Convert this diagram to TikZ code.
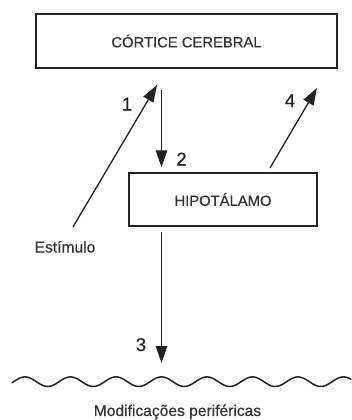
\documentclass[tikz,border=0pt]{standalone}
\usepackage{fontspec}
\setmainfont{Liberation Sans}
\newfontfamily\medfont{Liberation Sans}[FakeBold=0.5]
\usetikzlibrary{arrows.meta}
\definecolor{ink}{HTML}{222226}
\definecolor{txt}{HTML}{333337}
\begin{document}
\begin{tikzpicture}[x=1pt,y=-1pt,
  box/.style={draw=ink, line width=1.4pt, inner sep=0pt, text=txt,
    font=\medfont\fontsize{14.8}{16}\selectfont},
  lbl/.style={text=txt, inner sep=0pt, font=\medfont\fontsize{15.6}{17}\selectfont},
  num/.style={text=ink, inner sep=0pt, anchor=base, font=\medfont\fontsize{18.5}{20}\selectfont},
  arr/.style={draw=ink, line width=1.3pt, -{Triangle[length=17pt,width=11.5pt]}}]
  \useasboundingbox (0,0) rectangle (351,420);

  % boxes
  \node[box, minimum width=301pt, minimum height=54pt] (cortex) at (186.5,41) {CÓRTICE CEREBRAL};
  \node[box, minimum width=188pt, minimum height=53pt] (hypo) at (223,199.5) {HIPOTÁLAMO};

  % texts
  \node[lbl, anchor=base] (stim) at (65,252.5) {Estímulo};
  \node[lbl, anchor=base] (mods) at (177.5,416) {Modificações periféricas};

  % free ends of the connectors
  \coordinate (s1) at (73,227);
  \coordinate (t1) at (157,85);
  \coordinate (s4) at (270,168);
  \coordinate (t4) at (317,88);
  \coordinate (xv) at (161.5,0);
  \coordinate (t3) at (161.5,363);

  % connectors
  \draw[arr] (s1) -- (t1);
  \draw[arr, shorten <=21pt, shorten >=5pt] (cortex.south -| xv) -- (hypo.north -| xv);
  \draw[arr] (s4) -- (t4);
  \draw[arr, shorten <=5pt] (hypo.south -| xv) -- (t3);

  % numbers
  \node[num] (n1) at (127,110.5) {1};
  \node[num] (n2) at (181.5,165.5) {2};
  \node[num] (n3) at (141,351) {3};
  \node[num] (n4) at (290,107) {4};

  % wavy line
  \draw[ink, line width=1.5pt, line cap=round]
    plot[domain=12:351, samples=240, smooth] (\x, {381.7 - 4.8*sin(((\x-13.6)/45.5)*360)});
\end{tikzpicture}
\end{document}
